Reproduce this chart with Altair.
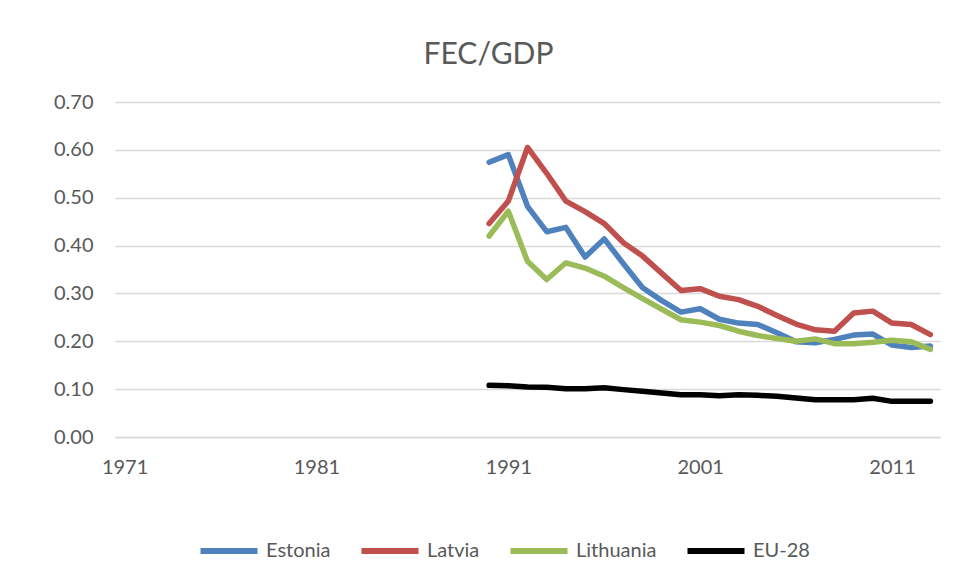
import altair as alt
import pandas as pd

years = list(range(1990, 2014))
countries = ["Estonia", "Latvia", "Lithuania", "EU-28"]
colors = ["#4F81BD", "#C0504D", "#9BBB59", "#000000"]

estonia = [0.574, 0.590, 0.482, 0.429, 0.438, 0.376, 0.414, 0.362, 0.312, 0.285,
           0.261, 0.268, 0.246, 0.238, 0.235, 0.218, 0.199, 0.197, 0.204, 0.213,
           0.215, 0.192, 0.187, 0.190]
latvia = [0.446, 0.493, 0.605, 0.551, 0.493, 0.471, 0.446, 0.406, 0.378, 0.342,
          0.306, 0.310, 0.294, 0.287, 0.273, 0.254, 0.236, 0.224, 0.221, 0.259,
          0.263, 0.238, 0.235, 0.214]
lithuania = [0.420, 0.472, 0.367, 0.329, 0.364, 0.353, 0.336, 0.312, 0.289, 0.267,
             0.245, 0.240, 0.233, 0.221, 0.212, 0.206, 0.200, 0.205, 0.195, 0.195,
             0.198, 0.202, 0.199, 0.183]
eu28 = [0.108, 0.107, 0.1045, 0.104, 0.101, 0.101, 0.103, 0.099, 0.0955, 0.092,
        0.0885, 0.0885, 0.086, 0.0885, 0.087, 0.085, 0.0815, 0.078, 0.078, 0.078,
        0.081, 0.0745, 0.0745, 0.0745]

x_ticks = [1971, 1981, 1991, 2001, 2011]
y_ticks = [0.0, 0.1, 0.2, 0.3, 0.4, 0.5, 0.6, 0.7]

series = [estonia, latvia, lithuania, eu28]
rows = []
for name, vals in zip(countries, series):
    for yr, v in zip(years, vals):
        rows.append({"year": yr, "country": name, "value": v})
df = pd.DataFrame(rows)

FONT = "Lato"
GREY = "#595959"
GRID = "#D9D9D9"

chart = alt.Chart(df).mark_line(strokeWidth=5.5, strokeCap="round", strokeJoin="round").encode(
    x=alt.X("year:Q",
            scale=alt.Scale(domain=[1970.5, 2013.5], nice=False, zero=False),
            axis=alt.Axis(values=x_ticks, format="d", title=None, ticks=False, grid=False,
                          domainColor=GRID, domainWidth=1.5, labelFont=FONT, labelFontSize=20,
                          labelColor=GREY, labelPadding=20)),
    y=alt.Y("value:Q",
            scale=alt.Scale(domain=[0, 0.7], nice=False),
            axis=alt.Axis(values=y_ticks, format=".2f", title=None, ticks=False, domain=False,
                          gridColor=GRID, gridWidth=1.5, labelFont=FONT, labelFontSize=20,
                          labelColor=GREY, labelPadding=22)),
    color=alt.Color("country:N",
                    scale=alt.Scale(domain=countries, range=colors),
                    legend=alt.Legend(title=None, orient="none", direction="horizontal",
                                      legendX=82, legendY=417,
                                      symbolType="stroke", symbolSize=3250, symbolStrokeWidth=6,
                                      labelFont=FONT, labelFontSize=20, labelColor=GREY,
                                      labelOffset=5, columnPadding=18)),
    order=alt.Order("country:N"),
).properties(
    width=825,
    height=335,
    title=alt.TitleParams("FEC/GDP", font=FONT, fontSize=30, fontWeight="normal",
                          color=GREY, anchor="middle", dx=-39, offset=22),
    autosize=alt.AutoSizeParams(type="none"),
    padding={"left": 107, "top": 94, "right": 10, "bottom": 140},
).configure_view(stroke=None)

chart.save("out.html", embed_options={"renderer": "svg", "actions": False})
